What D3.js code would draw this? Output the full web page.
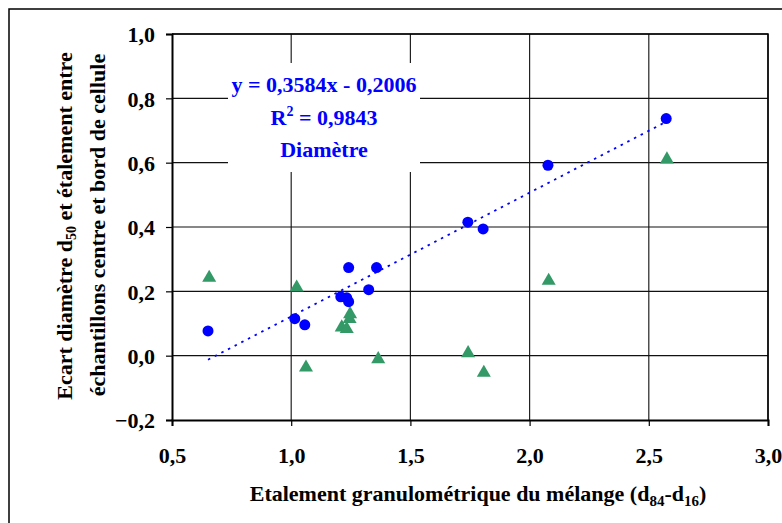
<!DOCTYPE html>
<html>
<head>
<meta charset="utf-8">
<script src="https://cdn.jsdelivr.net/npm/d3@7"></script>
<style>
  body { margin: 0; background: #fff; }
  svg text { font-family: "Liberation Serif", "DejaVu Serif", serif; font-weight: 700; }
</style>
</head>
<body>
<svg id="chart" width="782" height="523"></svg>
<script>
// Diamètre (blue circles)
const diamX = [0.651, 1.015, 1.057, 1.208, 1.233, 1.241, 1.241, 1.325, 1.358, 1.741, 1.805, 2.077, 2.573];
const diamY = [0.077, 0.115, 0.096, 0.183, 0.180, 0.168, 0.274, 0.205, 0.274, 0.415, 0.394, 0.592, 0.737];
// Etalement (green triangles)
const etalX = [0.656, 1.023, 1.062, 1.212, 1.233, 1.245, 1.247, 1.365, 1.742, 1.808, 2.080, 2.576];
const etalY = [0.242, 0.212, -0.037, 0.088, 0.083, 0.114, 0.129, -0.011, 0.008, -0.053, 0.233, 0.610];

const xTicks = [0.5, 1.0, 1.5, 2.0, 2.5, 3.0];
const yTicks = [-0.2, 0.0, 0.2, 0.4, 0.6, 0.8, 1.0];
const trendLabel = ["y = 0,3584x - 0,2006", "= 0,9843", "Diamètre"];

const svg = d3.select('#chart');
const plotL = 172, plotR = 768, plotT = 34, plotB = 420;
const fs = 22;

const x = d3.scaleLinear().domain([0.5, 3.0]).range([plotL, plotR]);
const y = d3.scaleLinear().domain([-0.2, 1.0]).range([plotB, plotT]);
const fmt = d => d3.format('.1f')(d).replace('.', ',');

// outer frame
svg.append('rect')
  .attr('x', 9).attr('y', 9).attr('width', 800).attr('height', 540)
  .attr('fill', 'none').attr('stroke', '#000').attr('stroke-width', 1.5);

// grid
svg.append('g').selectAll('line').data(xTicks.slice(1))
  .join('line')
  .attr('x1', d => x(d)).attr('x2', d => x(d))
  .attr('y1', plotT).attr('y2', plotB)
  .attr('stroke', '#222').attr('stroke-width', 1.2);
svg.append('g').selectAll('line').data(yTicks.slice(1))
  .join('line')
  .attr('x1', plotL).attr('x2', plotR)
  .attr('y1', d => y(d)).attr('y2', d => y(d))
  .attr('stroke', '#111').attr('stroke-width', 1.2);

// axes
const xAxis = svg.append('g')
  .attr('transform', `translate(0,${plotB})`)
  .call(d3.axisBottom(x).tickValues(xTicks).tickFormat(fmt).tickSize(6).tickPadding(21));
const yAxis = svg.append('g')
  .attr('transform', `translate(${plotL},0)`)
  .call(d3.axisLeft(y).tickValues(yTicks).tickFormat(fmt).tickSize(6).tickPadding(11));
[xAxis, yAxis].forEach(g => {
  g.attr('font-family', null);
  g.select('.domain').attr('stroke', '#000').attr('stroke-width', 2);
  g.selectAll('.tick line').attr('stroke', '#000').attr('stroke-width', 1.2);
  g.selectAll('.tick text').attr('font-size', fs).attr('fill', '#000');
});
yAxis.selectAll('.tick text').attr('dy', '0.36em');
// top and right border
svg.append('path')
  .attr('d', `M${plotL},${plotT}H${plotR}V${plotB}`)
  .attr('fill', 'none').attr('stroke', '#000').attr('stroke-width', 1.5);

// label box (white background covering grid)
svg.append('rect')
  .attr('x', 228).attr('y', 63).attr('width', 192).attr('height', 109)
  .attr('fill', '#fff');
const lab = svg.append('g').attr('fill', '#0000ff').attr('font-size', fs);
lab.append('text').attr('x', 324).attr('y', 92).attr('text-anchor', 'middle').text(trendLabel[0]);
const r2 = lab.append('text').attr('x', 324).attr('y', 125).attr('text-anchor', 'middle');
r2.append('tspan').text('R');
r2.append('tspan').attr('font-size', 14).attr('dy', -9).text('2');
r2.append('tspan').attr('dy', 9).text(' ' + trendLabel[1]);
lab.append('text').attr('x', 324).attr('y', 157).attr('text-anchor', 'middle').text(trendLabel[2]);

// trend line from least squares fit of the blue series
const mx = d3.mean(diamX), my = d3.mean(diamY);
const sxy = d3.sum(diamX, (v, i) => (v - mx) * (diamY[i] - my));
const sxx = d3.sum(diamX, v => (v - mx) ** 2);
const slope = sxy / sxx, icpt = my - slope * mx;
const [x0, x1] = d3.extent(diamX);
svg.append('line')
  .attr('x1', x(x0)).attr('y1', y(slope * x0 + icpt))
  .attr('x2', x(x1)).attr('y2', y(slope * x1 + icpt))
  .attr('stroke', '#0000ff').attr('stroke-width', 1.8)
  .attr('stroke-dasharray', '2.5,5');

// triangles
svg.append('g').selectAll('path').data(etalX)
  .join('path')
  .attr('d', d3.symbol(d3.symbolTriangle, 85))
  .attr('transform', (d, i) => `translate(${x(d)},${y(etalY[i])})`)
  .attr('fill', '#339966');

// circles
svg.append('g').selectAll('circle').data(diamX)
  .join('circle')
  .attr('cx', d => x(d)).attr('cy', (d, i) => y(diamY[i]))
  .attr('r', 5.5).attr('fill', '#0000ff');

// axis titles
const xt = svg.append('text')
  .attr('x', 478).attr('y', 501).attr('text-anchor', 'middle').attr('font-size', fs);
xt.append('tspan').text('Etalement granulométrique du mélange (d');
xt.append('tspan').attr('font-size', 15).attr('dy', 5).text('84');
xt.append('tspan').attr('dy', -5).text('-d');
xt.append('tspan').attr('font-size', 15).attr('dy', 5).text('16');
xt.append('tspan').attr('dy', -5).text(')');

const yt = svg.append('text')
  .attr('transform', 'translate(72,226) rotate(-90)')
  .attr('text-anchor', 'middle').attr('font-size', fs);
yt.append('tspan').attr('x', 0).text('Ecart diamètre d');
yt.append('tspan').attr('font-size', 14).attr('dy', 4).text('50');
yt.append('tspan').attr('dy', -4).text(' et étalement entre');
svg.append('text')
  .attr('transform', 'translate(105,225) rotate(-90)')
  .attr('text-anchor', 'middle').attr('font-size', fs)
  .text('échantillons centre et bord de cellule');
</script>
</body>
</html>
